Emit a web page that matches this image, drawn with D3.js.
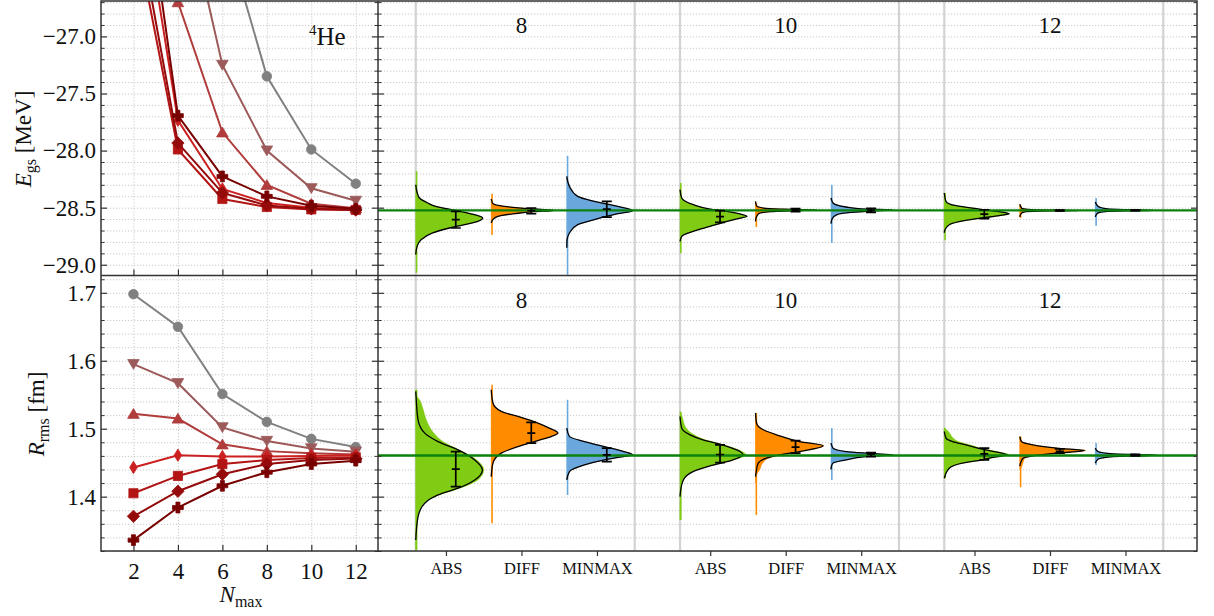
<!DOCTYPE html>
<html><head><meta charset="utf-8">
<script src="https://cdn.jsdelivr.net/npm/d3@7"></script>
<style>
body{margin:0;background:#fff;}
svg text{font-family:"Liberation Serif","DejaVu Serif",serif;fill:#111;}
</style></head><body>
<svg id="c" width="1214" height="616" font-family="Liberation Serif, serif"></svg>
<script>
// ================= DATA =================
const nmaxValues = [2, 4, 6, 8, 10, 12];
// ground-state energy [MeV] for each series (index = Nmax)
const E_circle      = [-20.0, -24.0, -26.0, -27.35, -27.99, -28.29];
const E_triDown     = [-22.0, -25.54, -27.25, -28.00, -28.33, -28.44];
const E_triUp       = [-22.5, -26.70, -27.84, -28.30, -28.465, -28.505];
const E_thinDiamond = [-25.3, -27.735, -28.336, -28.459, -28.50, -28.52];
const E_square      = [-26.0, -27.99, -28.424, -28.494, -28.515, -28.52];
const E_diamond     = [-25.8, -27.934, -28.371, -28.48, -28.51, -28.52];
const E_plus        = [-24.9, -27.694, -28.226, -28.401, -28.483, -28.51];
// rms radius [fm]
const R_circle      = [1.698, 1.650, 1.551, 1.510, 1.485, 1.473];
const R_triDown     = [1.595, 1.567, 1.502, 1.482, 1.471, 1.466];
const R_triUp       = [1.522, 1.515, 1.477, 1.467, 1.464, 1.462];
const R_thinDiamond = [1.443, 1.461, 1.459, 1.459, 1.460, 1.461];
const R_square      = [1.405, 1.4305, 1.448, 1.454, 1.457, 1.458];
const R_diamond     = [1.371, 1.408, 1.433, 1.448, 1.454, 1.456];
const R_plus        = [1.336, 1.384, 1.416, 1.436, 1.448, 1.453];

const eMajorTicks = [-29.0, -28.5, -28.0, -27.5, -27.0];
const rMajorTicks = [1.4, 1.5, 1.6, 1.7];
const groupLabels = ["8", "10", "12"];
const methods = ["ABS", "DIFF", "MINMAX"];
const refE = -28.524;
const refR = 1.4605;

// distribution profiles: [value, density] (density in arbitrary units)
const E8_ABS    = [[-28.299,0],[-28.371,1.5],[-28.415,3.7],[-28.459,12],[-28.489,20],[-28.524,40],[-28.561,58.7],[-28.59,67],[-28.62,62],[-28.649,48.7],[-28.678,33.7],[-28.72,17],[-28.78,5.3],[-28.839,1.3],[-28.91,0]];
const E8_DIFF   = [[-28.424,0],[-28.465,1.7],[-28.489,13],[-28.506,33],[-28.518,53],[-28.524,63],[-28.535,43],[-28.553,23],[-28.576,6.7],[-28.605,1.5],[-28.634,0]];
const E8_MINMAX = [[-28.226,0],[-28.313,2.7],[-28.401,11],[-28.445,27.7],[-28.489,51],[-28.526,66],[-28.553,51],[-28.605,27.7],[-28.649,11],[-28.722,2.7],[-28.78,0.3],[-28.85,0]];
const E10_ABS    = [[-28.342,0],[-28.415,1.7],[-28.474,13.3],[-28.512,30],[-28.532,46.7],[-28.555,60],[-28.576,67],[-28.596,58],[-28.614,50],[-28.664,30],[-28.707,13.3],[-28.751,1.7],[-28.795,0]];
const E10_DIFF   = [[-28.445,0],[-28.483,1],[-28.503,8],[-28.512,25],[-28.518,45],[-28.520,61],[-28.526,40],[-28.535,15],[-28.553,3],[-28.59,0.5],[-28.62,0]];
const E10_MINMAX = [[-28.415,0],[-28.459,2],[-28.494,15],[-28.512,35],[-28.520,62],[-28.529,40],[-28.541,20],[-28.561,6],[-28.599,1],[-28.64,0]];
const E12_ABS    = [[-28.371,0],[-28.445,1.7],[-28.483,12],[-28.512,35],[-28.535,55],[-28.553,65],[-28.570,55],[-28.59,38],[-28.614,20],[-28.649,5],[-28.693,0.7],[-28.72,0]];
const E12_DIFF   = [[-28.47,0],[-28.505,2],[-28.515,8],[-28.522,35],[-28.525,58],[-28.528,30],[-28.535,6],[-28.55,1.5],[-28.58,0]];
const E12_MINMAX = [[-28.45,0],[-28.49,3],[-28.51,12],[-28.52,45],[-28.524,58],[-28.528,30],[-28.535,10],[-28.55,2],[-28.58,0]];

const R8_ABS    = [[1.555,0],[1.5426,0.5],[1.5131,2.3],[1.4935,9],[1.4811,22.3],[1.4689,42.3],[1.4541,59],[1.4394,66.7],[1.4246,59],[1.4124,42.3],[1.4025,22.3],[1.3903,9],[1.3705,2.3],[1.3361,0]];
const R8_ABS_hist = [[1.5574,0],[1.548,1],[1.542,4],[1.53,7],[1.515,10],[1.502,14],[1.4935,18],[1.4811,27],[1.4689,43],[1.4541,61],[1.4394,68],[1.4246,62],[1.4124,44],[1.4025,23],[1.3903,8],[1.3705,2],[1.3361,0.5],[1.3214,0]];
const R8_DIFF   = [[1.5574,0],[1.5378,1.7],[1.5254,10],[1.518,26.7],[1.5082,46.7],[1.5009,58],[1.4935,66.7],[1.4885,60],[1.4826,46.7],[1.4737,26.7],[1.464,10],[1.4493,1.7],[1.4295,0]];
const R8_MINMAX = [[1.5009,0],[1.4885,2.7],[1.4811,17.7],[1.4737,37.7],[1.4664,57],[1.4615,66],[1.4575,50],[1.4541,37.7],[1.4467,17.7],[1.4369,2.7],[1.4246,0]];
const R10_ABS    = [[1.518,0],[1.5009,1.7],[1.491,10],[1.4836,23],[1.4772,40],[1.4714,52],[1.4664,60],[1.4615,63],[1.4541,53],[1.4453,30],[1.4369,13],[1.4246,3.3],[1.4099,0.7],[1.40,0]];
const R10_ABS_hist = [[1.525,0],[1.518,2],[1.5009,6],[1.491,14],[1.4836,25],[1.4772,41],[1.4714,54],[1.4664,62],[1.4615,66],[1.4541,53],[1.4453,30],[1.4369,13],[1.4246,3.3],[1.4099,1],[1.39,0.3],[1.3656,0]];
const R10_DIFF   = [[1.523,0],[1.5083,1],[1.4984,7.7],[1.491,21],[1.4811,44],[1.4748,67.7],[1.4664,44],[1.4615,24],[1.4566,11],[1.4493,2.7],[1.4394,1],[1.4295,0]];
const R10_DIFF_hist = [[1.523,0],[1.5083,1.5],[1.4984,8],[1.491,21],[1.4811,44],[1.4748,68],[1.4664,44],[1.4615,25],[1.4566,13],[1.4493,7],[1.4394,4],[1.435,2],[1.43,0.5],[1.42,0]];
const R10_MINMAX = [[1.4788,0],[1.4714,2],[1.4664,15],[1.464,35],[1.4615,62],[1.459,35],[1.4541,15],[1.4493,2],[1.4443,0.3],[1.44,0]];
const R12_ABS    = [[1.4959,0],[1.4861,1.7],[1.4811,8.3],[1.4763,21.7],[1.4699,38],[1.4655,53],[1.4615,63],[1.4581,50],[1.4541,38],[1.4493,18],[1.4419,5],[1.4271,0]];
const R12_ABS_hist = [[1.5009,0],[1.4959,4],[1.4861,9],[1.4811,14],[1.4763,25],[1.4699,40],[1.4655,55],[1.4615,65],[1.4581,50],[1.4541,38],[1.4493,18],[1.4419,5],[1.4271,0]];
const R12_DIFF   = [[1.4885,0],[1.4811,1.7],[1.4763,13],[1.4714,37],[1.4678,65],[1.464,37],[1.46,13],[1.4566,3.3],[1.4493,0.7],[1.445,0]];
const R12_DIFF_hist = [[1.4885,0],[1.4811,1.7],[1.4763,13],[1.4714,37],[1.4678,66],[1.464,37],[1.46,13],[1.4566,5],[1.4493,3],[1.443,1.5],[1.44,0]];
const R12_MINMAX = [[1.4714,0],[1.4664,2.7],[1.463,18],[1.4611,61],[1.459,18],[1.4551,2.7],[1.4493,0]];

// thin histogram tails [low, high]
const E_tails = [[-29.07,-28.18],[-28.74,-28.377],[-29.087,-28.045],[-28.897,-28.284],[-28.67,-28.46],[-28.809,-28.299],[-28.786,-28.371],[-28.59,-28.48],[-28.658,-28.415]];
const R_tails = [[1.3214,1.5574],[1.3608,1.5647],[1.4025,1.5426],[1.3656,1.525],[1.373,1.523],[1.4246,1.5009],[1.4271,1.5009],[1.4139,1.4885],[1.4467,1.4788]];
// error bars [low, mean, high]
const E_err = [[-28.678,-28.605,-28.532],[-28.553,-28.527,-28.503],[-28.582,-28.512,-28.445],
               [-28.628,-28.578,-28.526],[-28.535,-28.521,-28.509],[-28.541,-28.523,-28.506],
               [-28.596,-28.556,-28.518],[-28.529,-28.525,-28.521],[-28.527,-28.524,-28.521]];
const R_err = [[1.4148,1.4404,1.4664],[1.4788,1.4935,1.5092],[1.4516,1.4615,1.4714],
               [1.4502,1.462,1.4763],[1.464,1.473,1.4826],[1.459,1.4625,1.4649],
               [1.4541,1.4629,1.4714],[1.464,1.4668,1.4703],[1.4601,1.4611,1.4621]];

// ================= LAYOUT / STYLE =================
const SERIF = '"Liberation Serif", "DejaVu Serif", serif';
const LX0 = 101, LX1 = 378, RX1 = 1197, TY0 = 1, MY = 275.5, BY1 = 551;
const svg = d3.select("#c");
const seriesStyle = [
  {E:E_circle, R:R_circle, m:"circle", c:"#808080"},
  {E:E_triDown, R:R_triDown, m:"triDown", c:"#9c5a5a"},
  {E:E_triUp, R:R_triUp, m:"triUp", c:"#b03c3c"},
  {E:E_thinDiamond, R:R_thinDiamond, m:"thinDiamond", c:"#cc2020"},
  {E:E_square, R:R_square, m:"square", c:"#b31515"},
  {E:E_diamond, R:R_diamond, m:"diamond", c:"#950a0a"},
  {E:E_plus, R:R_plus, m:"plus", c:"#780000"}
];
const methodColor = {ABS:"#80cc14", DIFF:"#ff8c00", MINMAX:"#6aa7dc"};
const groupBase = [0, 3.5, 7];

const xL = d3.scaleLinear().domain([0.54, 13.0]).range([LX0, LX1]);
const yE = d3.scaleLinear().domain([-29.094, -26.69]).range([MY, TY0]);
const yR = d3.scaleLinear().domain([1.32, 1.7255]).range([BY1, MY]);
const xR = d3.scaleLinear().domain([-0.9, 9.947]).range([LX1, RX1]);
const dens = d3.scaleLinear().domain([0, 67]).range([0, 0.887]);

const defs = svg.append("defs");
function clip(id, x0, y0, x1, y1){
  defs.append("clipPath").attr("id", id).append("rect")
    .attr("x", x0).attr("y", y0).attr("width", x1-x0).attr("height", y1-y0);
}
clip("cLT", LX0, TY0, LX1, MY); clip("cLB", LX0, MY, LX1, BY1);
clip("cRT", LX1, TY0, RX1, MY); clip("cRB", LX1, MY, RX1, BY1);

function minorTicks(lo, hi, step){
  const out = [];
  for (let k = Math.ceil(lo/step - 1e-9); k*step <= hi + 1e-9; k++) out.push(+(k*step).toFixed(4));
  return out;
}
const eMinor = minorTicks(-29.09, -26.7, 0.1);
const rMinor = minorTicks(1.32, 1.72, 0.02);

function cleanAxis(g){
  g.attr("font-family", SERIF).attr("font-size", null);
  g.select(".domain").remove();
}

// grids
function hGrid(y, vals, x0, x1){
  const g = svg.append("g").attr("transform", `translate(${x0},0)`)
    .call(d3.axisLeft(y).tickValues(vals).tickSize(-(x1-x0)).tickFormat(""));
  cleanAxis(g);
  g.selectAll("line").attr("stroke", "#c9c9c9").attr("stroke-width", 1).attr("stroke-dasharray", "1.2,1.8");
}
hGrid(yE, eMinor, LX0, LX1); hGrid(yR, rMinor, LX0, LX1);
hGrid(yE, eMinor, LX1, RX1); hGrid(yR, rMinor, LX1, RX1);
function vGrid(y0, y1){
  const g = svg.append("g").attr("transform", `translate(0,${y1})`)
    .call(d3.axisBottom(xL).tickValues(nmaxValues).tickSize(-(y1-y0)).tickFormat(""));
  cleanAxis(g);
  g.selectAll("line").attr("stroke", "#c9c9c9").attr("stroke-width", 1).attr("stroke-dasharray", "1.2,1.8");
}
vGrid(TY0, MY); vGrid(MY, BY1);

// ---- right panels: separators, histograms ----
function drawDistPanel(yS, profiles, hists, tails, errs, ref, clipId, y0){
  const g = svg.append("g").attr("clip-path", `url(#${clipId})`);
  groupBase.forEach(b => {
    [b-0.4, b+2.5].forEach(u => g.append("line").attr("x1", xR(u)).attr("x2", xR(u))
      .attr("y1", TY0-5).attr("y2", BY1+5).attr("stroke", "#d3d3d3").attr("stroke-width", 2.2));
  });
  profiles.forEach((prof, i) => {
    const gi = Math.floor(i/3), mi = i%3, m = methods[mi];
    const pos = groupBase[gi] + mi;
    const start = pos - 0.4;
    const col = methodColor[m];
    const tl = tails[i];
    g.append("line").attr("x1", xR(start)+0.8).attr("x2", xR(start)+0.8)
      .attr("y1", yS(tl[0])).attr("y2", yS(tl[1])).attr("stroke", col).attr("stroke-width", 1.6);
    const hist = (hists[i] || prof).slice().sort((a,b)=>a[0]-b[0]);
    const area = d3.area().curve(d3.curveMonotoneY)
      .y(d => yS(d[0])).x0(xR(start)).x1(d => xR(start + dens(d[1])));
    g.append("path").attr("d", area(hist)).attr("fill", col).attr("stroke", col).attr("stroke-width", 0.6);
    const sp = prof.slice().sort((a,b)=>a[0]-b[0]);
    const line = d3.line().curve(d3.curveMonotoneY).y(d => yS(d[0])).x(d => xR(start + dens(d[1])));
    g.append("path").attr("d", line(sp)).attr("fill", "none").attr("stroke", "#000").attr("stroke-width", 1.3);
  });
  g.append("line").attr("x1", LX1).attr("x2", RX1).attr("y1", yS(ref)).attr("y2", yS(ref))
    .attr("stroke", "#0b820b").attr("stroke-width", 2.4);
  errs.forEach((e, i) => {
    const gi = Math.floor(i/3), mi = i%3;
    const xe = xR(groupBase[gi] + mi + 0.13);
    const ge = g.append("g").attr("stroke", "#000").attr("stroke-width", 1.7);
    ge.append("line").attr("x1", xe).attr("x2", xe).attr("y1", yS(e[0])).attr("y2", yS(e[2]));
    ge.append("line").attr("x1", xe-5).attr("x2", xe+5).attr("y1", yS(e[0])).attr("y2", yS(e[0]));
    ge.append("line").attr("x1", xe-5).attr("x2", xe+5).attr("y1", yS(e[2])).attr("y2", yS(e[2]));
    ge.append("line").attr("x1", xe-4).attr("x2", xe+4).attr("y1", yS(e[1])).attr("y2", yS(e[1]));
  });
  groupLabels.forEach((lab, gi) => {
    svg.append("text").attr("x", xR(groupBase[gi] + 1)).attr("y", y0 + 32)
      .attr("text-anchor", "middle").style("font-size", "23px").style("font-family", SERIF).text(lab);
  });
}
drawDistPanel(yE,
  [E8_ABS,E8_DIFF,E8_MINMAX,E10_ABS,E10_DIFF,E10_MINMAX,E12_ABS,E12_DIFF,E12_MINMAX],
  [null,null,null,null,null,null,null,null,null], E_tails, E_err, refE, "cRT", TY0);
drawDistPanel(yR,
  [R8_ABS,R8_DIFF,R8_MINMAX,R10_ABS,R10_DIFF,R10_MINMAX,R12_ABS,R12_DIFF,R12_MINMAX],
  [R8_ABS_hist,null,null,R10_ABS_hist,R10_DIFF_hist,null,R12_ABS_hist,R12_DIFF_hist,null], R_tails, R_err, refR, "cRB", MY);

// ---- left panels: convergence curves ----
function markerPath(t){
  switch(t){
    case "circle": return d3.symbol(d3.symbolCircle, Math.PI*4.8*4.8)();
    case "triUp": return "M0,-5.2L5.8,4.6L-5.8,4.6Z";
    case "triDown": return "M0,5.2L5.8,-4.6L-5.8,-4.6Z";
    case "thinDiamond": return "M0,-6.2L3.8,0L0,6.2L-3.8,0Z";
    case "square": return "M-4.6,-4.6H4.6V4.6H-4.6Z";
    case "diamond": return "M0,-6.2L6.2,0L0,6.2L-6.2,0Z";
    case "plus": { const a = 5.4, b = 2.0;
      return `M${-b},${-a}H${b}V${-b}H${a}V${b}H${b}V${a}H${-b}V${b}H${-a}V${-b}H${-b}Z`; }
  }
}
function drawSeries(key, yS, clipId){
  const g = svg.append("g").attr("clip-path", `url(#${clipId})`);
  seriesStyle.forEach(s => {
    const pts = nmaxValues.map((n, i) => [n, s[key][i]]);
    g.append("path").attr("d", d3.line().x(d => xL(d[0])).y(d => yS(d[1]))(pts))
      .attr("fill", "none").attr("stroke", s.c).attr("stroke-width", 2);
    g.selectAll(null).data(pts).enter().append("path")
      .attr("transform", d => `translate(${xL(d[0])},${yS(d[1])})`)
      .attr("d", markerPath(s.m)).attr("fill", s.c).attr("stroke", s.c).attr("stroke-width", 0.8);
  });
}
drawSeries("E", yE, "cLT");
drawSeries("R", yR, "cLB");

// ---- axes & frames ----
const fmt1 = d3.format(".1f");
function yAxes(y, major, minor, withLabels, x, dir){
  const gen = dir > 0 ? d3.axisLeft(y) : d3.axisRight(y);
  const g1 = svg.append("g").attr("transform", `translate(${x},0)`)
    .call(gen.tickValues(major).tickSize(-6).tickPadding(5).tickFormat(withLabels ? fmt1 : ""));
  cleanAxis(g1);
  g1.selectAll("line").attr("stroke", "#333").attr("stroke-width", 1.2);
  g1.selectAll("text").style("font-size", "23px").attr("fill", "#111").style("font-family", SERIF);
  const gen2 = dir > 0 ? d3.axisLeft(y) : d3.axisRight(y);
  const g2 = svg.append("g").attr("transform", `translate(${x},0)`)
    .call(gen2.tickValues(minor.filter(v => !major.some(M => Math.abs(M-v) < 1e-6))).tickSize(-3.5).tickFormat(""));
  cleanAxis(g2);
  g2.selectAll("line").attr("stroke", "#333").attr("stroke-width", 1);
}
yAxes(yE, eMajorTicks, eMinor, true, LX0, 1);
yAxes(yR, rMajorTicks, rMinor, true, LX0, 1);
yAxes(yE, eMajorTicks, eMinor, false, LX1, -1);
yAxes(yR, rMajorTicks, rMinor, false, LX1, -1);
yAxes(yE, eMajorTicks, eMinor, false, LX1, 1);
yAxes(yR, rMajorTicks, rMinor, false, LX1, 1);
yAxes(yE, eMajorTicks, eMinor, false, RX1, -1);
yAxes(yR, rMajorTicks, rMinor, false, RX1, -1);

// left x axes
[[MY, false], [BY1, true]].forEach(([yy, lab]) => {
  const g = svg.append("g").attr("transform", `translate(0,${yy})`)
    .call(d3.axisBottom(xL).tickValues(nmaxValues).tickSize(-6).tickPadding(12).tickFormat(lab ? d3.format("d") : ""));
  cleanAxis(g);
  g.selectAll("line").attr("stroke", "#333").attr("stroke-width", 1.2);
  g.selectAll("text").style("font-size", "23px").attr("fill", "#111").style("font-family", SERIF);
});
// right x axis (categories)
const catPos = [], catLab = [];
groupBase.forEach(b => methods.forEach((m, i) => { catPos.push(b + i); catLab.push(m); }));
{
  const g = svg.append("g").attr("transform", `translate(0,${BY1})`)
    .call(d3.axisBottom(xR).tickValues(catPos).tickSize(5).tickPadding(6).tickFormat((d, i) => catLab[i]));
  cleanAxis(g);
  g.selectAll("line").attr("stroke", "#333").attr("stroke-width", 1.2);
  g.selectAll("text").style("font-size", "16.5px").attr("fill", "#111").style("font-family", SERIF);
}

// frames
const frame = svg.append("g").attr("fill", "none").attr("stroke", "#333").attr("stroke-width", 1.5);
frame.append("rect").attr("x", LX0).attr("y", TY0).attr("width", RX1-LX0).attr("height", BY1-TY0);
frame.append("line").attr("x1", LX0).attr("x2", RX1).attr("y1", MY).attr("y2", MY);
frame.append("line").attr("x1", LX1).attr("x2", LX1).attr("y1", TY0).attr("y2", BY1);

// labels
svg.append("text").attr("x", 309).attr("y", 45).style("font-size", "25px").style("font-family", SERIF)
  .html('<tspan style="font-size:15px" dy="-10">4</tspan><tspan dy="10">He</tspan>');
svg.append("text").attr("transform", "translate(31,139) rotate(-90)").attr("text-anchor", "middle").style("font-size", "23px").style("font-family", SERIF)
  .html('<tspan font-style="italic">E</tspan><tspan style="font-size:16px" dy="5">gs</tspan><tspan dy="-5"> [MeV]</tspan>');
svg.append("text").attr("transform", "translate(44,414) rotate(-90)").attr("text-anchor", "middle").style("font-size", "23px").style("font-family", SERIF)
  .html('<tspan font-style="italic">R</tspan><tspan style="font-size:16px" dy="5">rms</tspan><tspan dy="-5"> [fm]</tspan>');
svg.append("text").attr("x", 241).attr("y", 602).attr("text-anchor", "middle").style("font-size", "23px").style("font-family", SERIF)
  .html('<tspan font-style="italic">N</tspan><tspan style="font-size:16px" dy="5">max</tspan>');
</script>
</body></html>
